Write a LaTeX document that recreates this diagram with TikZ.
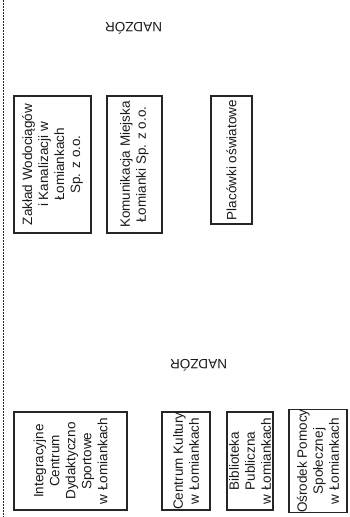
\documentclass[tikz,border=0pt]{standalone}
\usepackage{fontspec}
\setmainfont{Liberation Sans}
\begin{document}
\begin{tikzpicture}[x=1pt,y=-1pt,
  unit/.style={draw=black!85, line width=1.1pt, rotate=90, align=center, inner sep=0pt,
    text=black!90, font=\fontsize{13.5}{16}\selectfont},
  label/.style={rotate=180, text=black!90, inner sep=0pt, font=\fontsize{13.5}{16}\selectfont},
  sep/.style={draw=black!85, line width=1pt, dash pattern=on 2pt off 1pt}]
\useasboundingbox (0,0) rectangle (350,517);
\coordinate (lt) at (3.5,0);
\coordinate (lb) at (3.5,517);
\draw[sep] (lt) -- (lb);
\node[label] (n1) at (133.5,28) {NADZÓR};
\node[label] (n2) at (198.5,365) {NADZÓR};
\node[unit, minimum width=137, minimum height=77] (zwik) at (52.5,164.5)
  {Zakład Wodociągów\\i Kanalizacji w\\Łomiankach\\Sp. z o.o.};
\node[unit, minimum width=137, minimum height=55] (kom) at (134.5,164.5)
  {Komunikacja Miejska\\Łomianki Sp. z o.o.};
\node[unit, minimum width=128, minimum height=41] (plac) at (231.5,160)
  {Placówki oświatowe};
\node[unit, minimum width=98, minimum height=113] (icds) at (70.5,461)
  {Integracyjne\\Centrum\\Dydaktyczno\\Sportowe\\w Łomiankach};
\node[unit, minimum width=98, minimum height=48] (ck) at (186,461)
  {Centrum Kultury\\w Łomiankach};
\node[unit, minimum width=98, minimum height=46] (bib) at (250,461)
  {Biblioteka\\Publiczna\\w Łomiankach};
\node[unit, minimum width=98, minimum height=58] (ops) at (318,461)
  {Ośrodek Pomocy\\Społecznej\\w Łomiankach};
\end{tikzpicture}
\end{document}
